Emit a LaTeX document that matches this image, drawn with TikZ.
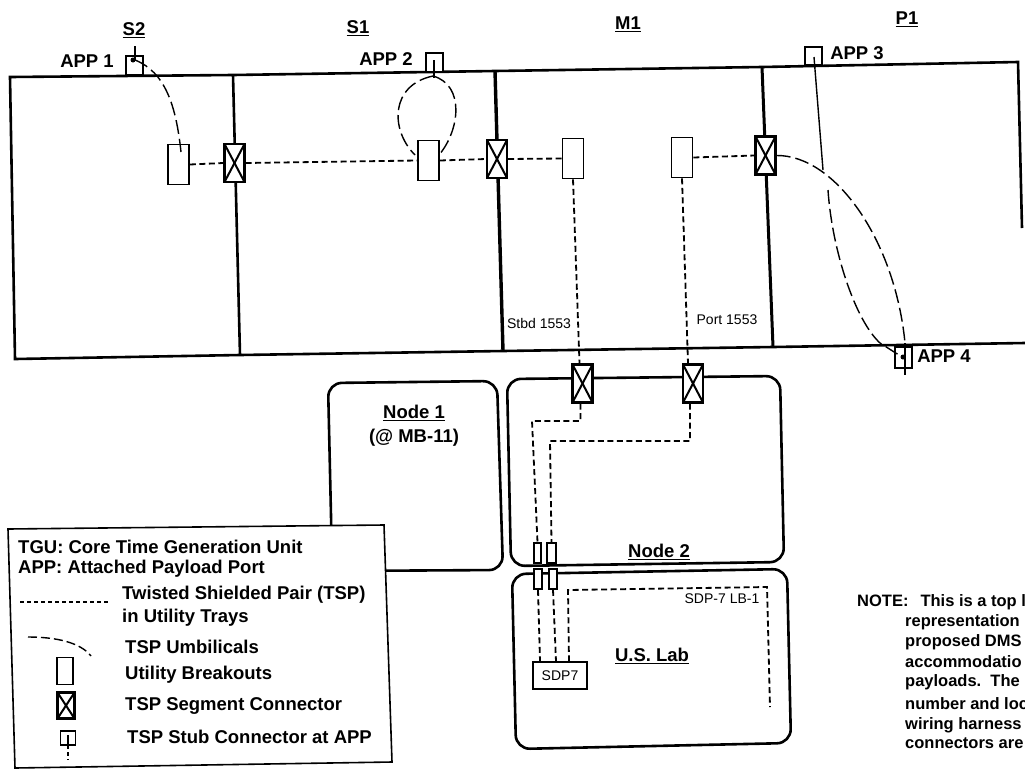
\documentclass[tikz,border=0pt]{standalone}
\usepackage{fontspec}
\setmainfont{Liberation Sans}
\usetikzlibrary{positioning}
\tikzset{
	wall/.style={line width=2.6pt},
	tray/.style={dash pattern=on 6pt off 3.5pt,line width=1.8pt},
	umbilical/.style={dash pattern=on 14pt off 5pt,line width=1.4pt},
	breakout/.style={draw,fill=white,line width=1.6pt,minimum width=#1,minimum height=40pt,inner sep=0pt},
	breakout/.default=21pt,
	segconn/.style={draw,fill=white,line width=2.2pt,minimum width=20pt,minimum height=38pt,inner sep=0pt,
		path picture={\draw[line width=2pt] (path picture bounding box.north west) -- (path picture bounding box.south east);
			\draw[line width=2pt] (path picture bounding box.north east) -- (path picture bounding box.south west);}},
	appbox/.style={draw,fill=white,line width=1.6pt,minimum width=17pt,minimum height=19pt,inner sep=0pt},
	label/.style={font=\fontsize{18.5}{20}\selectfont\bfseries,inner sep=0pt},
	small/.style={font=\fontsize{14}{16}\selectfont,inner sep=0pt},
	legendtext/.style={font=\fontsize{18.5}{20}\selectfont\bfseries,inner sep=0pt,anchor=west},
	notetext/.style={font=\fontsize{16.5}{18}\selectfont\bfseries,inner sep=0pt,anchor=west},
}
\begin{document}
\begin{tikzpicture}[x=1pt,y=-1pt]
	\useasboundingbox (0,0) rectangle (1025,769);

	% truss outline
	\draw[wall] (1022,228) -- (1018,62) -- (762,67) -- (495,71) -- (233,75) -- (10,77) -- (15,359) -- (240,355) -- (503,351) -- (773,347) -- (1025,343);
	\draw[wall] (233,75) -- (240,355);
	\draw[wall,line width=3.4pt] (495,71) -- (503,351);
	\draw[wall,line width=3pt] (762,67) -- (773,347);

	% modules
	\draw[wall,rounded corners=14pt] (332,560) -- (328,383) -- (497,381) -- (503,570) -- (330,571);
	\draw[wall,rounded corners=14pt] (511,566) -- (507,379) -- (780,376) -- (784,562) -- cycle;
	\draw[wall,rounded corners=14pt] (512,574) -- (787,569) -- (791,743) -- (516,749) -- cycle;

	% segment connectors
	\node[segconn] (c1) at (234.5,163) {};
	\node[segconn] (c2) at (497,159) {};
	\node[segconn] (c3) at (765.5,155.5) {};
	\node[segconn] (c4) at (582.5,383.5) {};
	\node[segconn] (c5) at (693,383.5) {};

	% breakouts
	\node[breakout] (b1) at (178.5,164.5) {};
	\node[breakout] (b2) at (428.5,160.5) {};
	\node[breakout] (b3) at (573,158.5) {};
	\node[breakout] (b4) at (682,157.5) {};

	% payload ports
	\node[appbox] (a1) at (134.5,65.5) {};
	\node[appbox] (a2) at (434.5,62.5) {};
	\node[appbox,minimum height=18pt] (a3) at (813.5,56) {};
	\node[appbox,minimum height=21pt] (a4) at (903.5,357.5) {};

	% trays
	\draw[tray] (b1.east) -- (c1.west);
	\draw[tray] (c1.east) -- (b2.west);
	\draw[tray] (b2.east) -- (c2.west);
	\draw[tray] (c2.east) -- (b3.west);
	\draw[tray] (b4.east) -- (c3.west);
	\draw[tray] (b3.south) -- ([xshift=-3pt]c4.north);
	\draw[tray] (b4.south) -- ([xshift=-5pt]c5.north);

	% umbilicals
	\draw[umbilical] (135,60) .. controls (165,72) and (176,105) .. (181,152);
	\draw[umbilical] (433,76) .. controls (390,85) and (390,130) .. (415,155);
	\draw[umbilical] (433,76) .. controls (465,85) and (460,130) .. (439,155);
	\draw[line width=1.4pt] (814,57) -- (823,170);
	\draw[umbilical] (828,190) .. controls (832,250) and (855,320) .. (880,343) -- (902,357);
	\draw[umbilical] (c3.east) .. controls (835,155) and (895,240) .. (905,343);
	\draw[line width=1.4pt] (905,343) -- (905,375);
	\draw[line width=1.4pt] (135,46) -- (135,60);
	\draw[line width=1.4pt] (434,60) -- (434,78);
	\fill (133,60) circle (2.5pt);
	\fill (903,357) circle (2.5pt);

	% node 2 to lab
	\node[breakout=7pt,minimum height=20pt] (f1) at (537.5,553) {};
	\node[breakout=9pt,minimum height=20pt] (f2) at (551.5,553) {};
	\node[breakout=8pt,minimum height=20pt] (g1) at (538,579) {};
	\node[breakout=8pt,minimum height=20pt] (g2) at (553,579) {};
	\node[draw,line width=1.4pt,minimum width=54pt,minimum height=27pt,inner sep=0pt,small] (sdp) at (560,675.5) {SDP7};
	\coordinate (labend) at (770,707);
	\draw[tray] ([xshift=-2pt]c4.south) |- (532,421) -- (f1.north);
	\draw[tray] ([xshift=-3pt]c5.south) |- (550,441) -- (f2.north);
	\draw[tray] (g1.south) -- ([xshift=-20pt]sdp.north);
	\draw[tray] (g2.south) -- ([xshift=-4pt]sdp.north);
	\draw[tray] ([xshift=9pt]sdp.north) -- (568,590) -- (767,587) -- (labend);

	% texts
	\node[label] (s2) at (134,30) {\underline{S2}};
	\node[label] (s1) at (358,28) {\underline{S1}};
	\node[label] (m1) at (628,24) {\underline{M1}};
	\node[label] (p1) at (907,19) {\underline{P1}};
	\node[label] (t1) at (87,61) {APP 1};
	\node[label] (t2) at (386,59) {APP 2};
	\node[label] (t3) at (857,53) {APP 3};
	\node[label] (t4) at (944,356) {APP 4};
	\node[small] (stbd) at (539,323) {Stbd 1553};
	\node[small] (port) at (727,320) {Port 1553};
	\node[label] (n1) at (414,413) {\underline{Node 1}};
	\node[label] (n1b) at (414,438) {(@ MB-11)};
	\node[label] (n2) at (659,552) {\underline{Node 2}};
	\node[label] (lab) at (652,656) {\underline{U.S. Lab}};
	\node[small] (lb) at (722,599) {SDP-7 LB-1};

	% legend
	\draw[fill=white,line width=1.6pt] (8,529) -- (384,525) -- (392,762) -- (15,768) -- cycle;
	\node[legendtext] (l1) at (18,547) {TGU: Core Time Generation Unit};
	\node[legendtext] (l2) at (18,569) {APP: Attached Payload Port};
	\node[legendtext] (l3) at (122,595) {Twisted Shielded Pair (TSP)};
	\node[legendtext] (l4) at (122,618) {in Utility Trays};
	\node[legendtext] (l5) at (125,647) {TSP Umbilicals};
	\node[legendtext] (l6) at (125,675) {Utility Breakouts};
	\node[legendtext] (l7) at (125,706) {TSP Segment Connector};
	\node[legendtext] (l8) at (127,737) {TSP Stub Connector at APP};
	\draw[tray,dash pattern=on 4pt off 3pt] (20,602) -- (108,602);
	\draw[umbilical,dash pattern=on 9pt off 4pt] (28,637) .. controls (55,637) and (80,642) .. (91,656);
	\node[breakout=16pt,minimum height=27pt] (k1) at (65,671) {};
	\node[segconn,minimum width=17pt,minimum height=26pt] (k2) at (66,705.5) {};
	\node[appbox,minimum width=15pt,minimum height=14pt] (k3) at (68,738) {};
	\draw[line width=1.4pt] (68,735) -- (68,745);
	\draw[tray,dash pattern=on 4pt off 3pt] (68,745) -- (68,760);

	% note
	\node[notetext] (note) at (857,602) {NOTE:\hspace{12pt}This is a top l};
	\foreach \y/\line in {622/representation, 642/proposed DMS, 662/accommodatio, 682/payloads.\ \ The, 704/number and loc, 725/wiring harness, 743/connectors are} {
		\node[notetext] at (905,\y) {\line};
	}
\end{tikzpicture}
\end{document}
